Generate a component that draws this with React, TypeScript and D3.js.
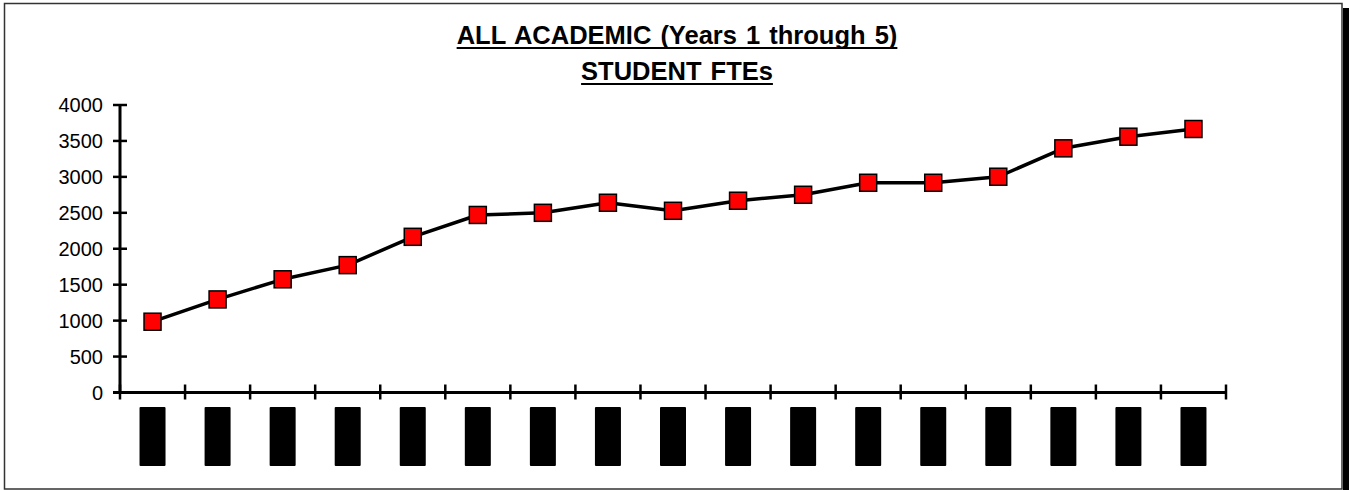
import React, { useEffect, useRef } from "react";
import * as d3 from "d3";

const titleLines = ["ALL ACADEMIC (Years 1 through 5)", "STUDENT FTEs"];
const categories = ["Y1", "Y2", "Y3", "Y4", "Y5", "Y6", "Y7", "Y8", "Y9", "Y10", "Y11", "Y12", "Y13", "Y14", "Y15", "Y16", "Y17"];
const fteValues = [985, 1295, 1575, 1772, 2166, 2470, 2500, 2640, 2528, 2668, 2751, 2918, 2918, 3002, 3397, 3559, 3666];
const yTicks = [0, 500, 1000, 1500, 2000, 2500, 3000, 3500, 4000];

const W = 1349;
const H = 490;

export default function App() {
  const ref = useRef<SVGSVGElement | null>(null);

  useEffect(() => {
    const svg = d3.select(ref.current);
    svg.selectAll("*").remove();
    const font = "'Liberation Sans', Arial, sans-serif";

    // frame + shadow
    svg.append("rect").attr("x", 1343).attr("y", 8).attr("width", 6).attr("height", H - 8).attr("fill", "#000");
    svg.append("rect").attr("x", 4.5).attr("y", 3.5).attr("width", 1337.5).attr("height", 485.5)
      .attr("fill", "#fff").attr("stroke", "#333").attr("stroke-width", 1.5);

    const x = d3.scaleBand<string>().domain(categories).range([120, 1226]).paddingInner(0).paddingOuter(0);
    const y = d3.scaleLinear().domain([0, 4000]).range([392.5, 105]);
    const cx = (c: string) => (x(c) as number) + x.bandwidth() / 2;

    // title
    const tg = svg.append("g");
    titleLines.forEach((t, i) => {
      const baseline = 44 + i * 36;
      const txt = tg.append("text").attr("x", 677).attr("y", baseline).attr("text-anchor", "middle")
        .attr("font-family", font).attr("font-weight", "bold").attr("font-size", 25.5)
        .attr("word-spacing", 2).attr("fill", "#000").text(t);
      const node = txt.node() as SVGTextElement;
      const bb = node.getBBox();
      tg.append("line").attr("x1", bb.x).attr("x2", bb.x + bb.width)
        .attr("y1", baseline + 4).attr("y2", baseline + 4).attr("stroke", "#000").attr("stroke-width", 2);
    });

    // y axis
    svg.append("line").attr("x1", 120).attr("x2", 120).attr("y1", y(4000) - 1).attr("y2", y(0) + 1)
      .attr("stroke", "#000").attr("stroke-width", 3);
    yTicks.forEach((v) => {
      svg.append("line").attr("x1", 113).attr("x2", 127).attr("y1", y(v)).attr("y2", y(v))
        .attr("stroke", "#000").attr("stroke-width", 2.5);
      svg.append("text").attr("x", 103).attr("y", y(v)).attr("dy", "0.36em").attr("text-anchor", "end")
        .attr("font-family", font).attr("font-size", 20).attr("fill", "#000").text(String(v));
    });

    // x axis
    svg.append("line").attr("x1", 113).attr("x2", 1226).attr("y1", y(0)).attr("y2", y(0))
      .attr("stroke", "#000").attr("stroke-width", 3);
    const tickXs = categories.map((c) => x(c) as number).concat([(x(categories[categories.length - 1]) as number) + x.bandwidth()]);
    tickXs.forEach((tx) => {
      svg.append("line").attr("x1", tx).attr("x2", tx).attr("y1", y(0) - 8).attr("y2", y(0) + 7)
        .attr("stroke", "#000").attr("stroke-width", 2.5);
    });

    // category label blocks
    svg.append("g").selectAll("rect").data(categories).join("rect")
      .attr("x", (c) => cx(c) - 13).attr("y", 407).attr("width", 26).attr("height", 59)
      .attr("rx", 1).attr("fill", "#000");

    // line
    const line = d3.line<number>().x((_, i) => cx(categories[i])).y((v) => y(v));
    svg.append("path").datum(fteValues).attr("d", line).attr("fill", "none")
      .attr("stroke", "#000").attr("stroke-width", 3.5).attr("stroke-linejoin", "round");

    // markers
    svg.append("g").selectAll("rect").data(fteValues).join("rect")
      .attr("x", (_, i) => cx(categories[i]) - 8.5).attr("y", (v) => y(v) - 8.5)
      .attr("width", 17).attr("height", 17).attr("fill", "#ff0000")
      .attr("stroke", "#000").attr("stroke-width", 1.5);
  }, []);

  return (
    <div style={{ position: "absolute", left: 0, top: 0 }}>
      <svg ref={ref} width={W} height={H} style={{ display: "block", background: "#fff" }} />
    </div>
  );
}
